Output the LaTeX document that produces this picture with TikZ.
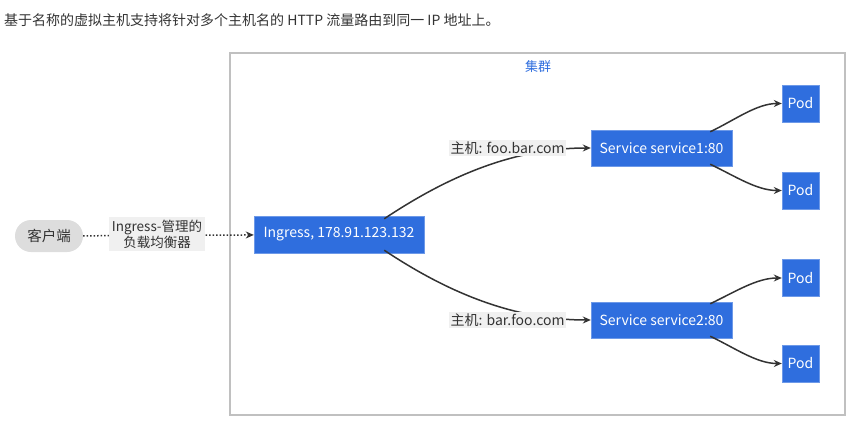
\documentclass[tikz,border=0pt]{standalone}
\usepackage{fontspec}
\setmainfont{Noto Sans CJK SC}
\usetikzlibrary{arrows.meta,positioning}
\definecolor{kblue}{RGB}{47,110,222}
\definecolor{kgray}{RGB}{51,51,51}
\definecolor{kline}{RGB}{192,192,192}
\definecolor{kclient}{RGB}{221,221,221}
\definecolor{klabel}{RGB}{240,240,240}
\tikzset{
    kbox/.style={fill=kblue, draw=kblue!70!white, text=white, inner sep=0pt, font=\fontsize{14}{16}\selectfont},
    hostlabel/.style={fill=klabel, text=kgray, inner sep=1.5pt, font=\fontsize{14}{16}\selectfont},
    flow/.style={draw=kgray, line width=1.5pt, -{Stealth[length=8pt,width=7pt]}},
}
\begin{document}
\begin{tikzpicture}[x=1pt,y=-1pt]
    \useasboundingbox (0,0) rectangle (857,431);
    \node[anchor=west, inner sep=0pt, text=kgray, font=\fontsize{14}{16}\selectfont] (title) at (4,20) {基于名称的虚拟主机支持将针对多个主机名的 HTTP 流量路由到同一 IP 地址上。};
    % cluster frame
    \draw[kline, line width=1.5pt] (230,53) rectangle (845,415);
    \node[text=kblue, font=\fontsize{13}{15}\selectfont] (cluster) at (538,67) {集群};
    % nodes
    \node[fill=kclient, rounded corners=16pt, minimum width=68pt, minimum height=32pt, inner sep=0pt, text=kgray, font=\fontsize{14.5}{16}\selectfont] (client) at (49,236) {客户端};
    \node[kbox, minimum width=170pt, minimum height=37pt] (ingress) at (339,234.5) {Ingress, 178.91.123.132};
    \node[kbox, minimum width=141pt, minimum height=36pt] (svc1) at (661.5,148) {Service service1:80};
    \node[kbox, minimum width=141pt, minimum height=36pt] (svc2) at (661.5,320) {Service service2:80};
    \foreach \n/\y in {1/103.5, 2/190.5, 3/278, 4/363.5}
        \node[kbox, minimum width=37pt, minimum height=37pt] (pod\n) at (800.5,\y) {Pod};
    % client to ingress
    \draw[flow, dotted] (client) -- (ingress);
    \node[hostlabel, align=center, inner sep=3pt, font=\fontsize{13.5}{16}\selectfont] (lb) at (157,234) {Ingress-管理的\\负载均衡器};
    % ingress to services
    \draw[flow] ([xshift=-40pt,yshift=-3pt]ingress.north east) .. controls +(60,-40) and +(-80,0) .. (svc1.west);
    \draw[flow] ([xshift=-40pt,yshift=3pt]ingress.south east) .. controls +(60,40) and +(-80,0) .. (svc2.west);
    \node[hostlabel] (host1) at (507.5,148) {主机: foo.bar.com};
    \node[hostlabel] (host2) at (507.5,320) {主机: bar.foo.com};
    % services to pods
    \draw[flow] ([xshift=-22pt,yshift=-2pt]svc1.north east) .. controls +(25,-12) and +(-25,0) .. (pod1.west);
    \draw[flow] ([xshift=-22pt,yshift=2pt]svc1.south east) .. controls +(25,12) and +(-25,0) .. (pod2.west);
    \draw[flow] ([xshift=-22pt,yshift=-2pt]svc2.north east) .. controls +(25,-12) and +(-25,0) .. (pod3.west);
    \draw[flow] ([xshift=-22pt,yshift=2pt]svc2.south east) .. controls +(25,12) and +(-25,0) .. (pod4.west);
\end{tikzpicture}
\end{document}
